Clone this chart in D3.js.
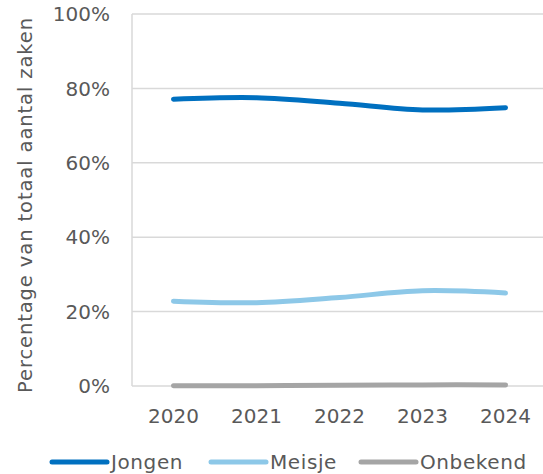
<!DOCTYPE html>
<html>
<head>
<meta charset="utf-8">
<script src="https://cdn.jsdelivr.net/npm/d3@7"></script>
<style>
  body { margin: 0; background: #fff; }
  text { font-family: "DejaVu Sans", Verdana, sans-serif; fill: #595959; }
</style>
</head>
<body>
<div id="chart"></div>
<script>
// Data
const years = ["2020", "2021", "2022", "2023", "2024"];
const jongen = [77.1, 77.5, 76.0, 74.2, 74.8];
const meisje = [22.8, 22.4, 23.8, 25.6, 25.0];
const onbekend = [0.1, 0.1, 0.2, 0.3, 0.3];
const yTicks = [0, 20, 40, 60, 80, 100];

const seriesNames = ["Jongen", "Meisje", "Onbekend"];
const seriesColors = ["#0070C0", "#8DC8E8", "#A5A5A5"];
const seriesValues = [jongen, meisje, onbekend];

const width = 543;
const height = 474;
const margin = { top: 14, right: -4, bottom: 88, left: 132 };

const svg = d3.select("#chart")
    .append("svg")
    .attr("width", width)
    .attr("height", height);

// Scales
const x = d3.scaleBand()
    .domain(years)
    .range([margin.left, width - margin.right]);

const y = d3.scaleLinear()
    .domain([0, 100])
    .range([height - margin.bottom, margin.top]);

// Gridlines
svg.append("g")
    .selectAll("line")
    .data(yTicks)
    .enter()
    .append("line")
    .attr("x1", margin.left)
    .attr("x2", width)
    .attr("y1", d => y(d))
    .attr("y2", d => y(d))
    .attr("stroke", "#D9D9D9")
    .attr("stroke-width", 1.5);

// Left axis line
svg.append("line")
    .attr("x1", margin.left)
    .attr("x2", margin.left)
    .attr("y1", y(100))
    .attr("y2", y(0))
    .attr("stroke", "#D9D9D9")
    .attr("stroke-width", 1.5);

// Y tick labels
svg.append("g")
    .selectAll("text")
    .data(yTicks)
    .enter()
    .append("text")
    .attr("x", 110)
    .attr("y", d => y(d))
    .attr("dy", "0.36em")
    .attr("text-anchor", "end")
    .style("font-size", "20px")
    .text(d => d + "%");

// X tick labels
svg.append("g")
    .selectAll("text")
    .data(years)
    .enter()
    .append("text")
    .attr("x", d => x(d) + x.bandwidth() / 2)
    .attr("y", 423)
    .attr("text-anchor", "middle")
    .style("font-size", "20px")
    .text(d => d);

// Y axis title
svg.append("text")
    .attr("transform", "translate(32," + 205 + ") rotate(-90)")
    .attr("text-anchor", "middle")
    .style("font-size", "19.5px")
    .style("letter-spacing", "0.9px")
    .text("Percentage van totaal aantal zaken");

// Lines
const line = d3.line()
    .x((d, i) => x(years[i]) + x.bandwidth() / 2)
    .y(d => y(d))
    .curve(d3.curveCatmullRom);

// draw Onbekend first so it sits under the others
[2, 1, 0].forEach(k => {
    svg.append("path")
        .datum(seriesValues[k])
        .attr("d", line)
        .attr("fill", "none")
        .attr("stroke", seriesColors[k])
        .attr("stroke-width", 5)
        .attr("stroke-linecap", "round");
});

// Legend
const legendX = [52, 211, 361];
const legendY = 462;
const legend = svg.append("g")
    .selectAll("g")
    .data(seriesNames)
    .enter()
    .append("g")
    .attr("transform", (d, i) => "translate(" + legendX[i] + "," + legendY + ")");

legend.append("line")
    .attr("x1", 0)
    .attr("x2", 55)
    .attr("stroke", (d, i) => seriesColors[i])
    .attr("stroke-width", 5)
    .attr("stroke-linecap", "round");

legend.append("text")
    .attr("x", 59)
    .attr("dy", "0.36em")
    .style("font-size", "20px")
    .style("letter-spacing", "0.6px")
    .text(d => d);
</script>
</body>
</html>
